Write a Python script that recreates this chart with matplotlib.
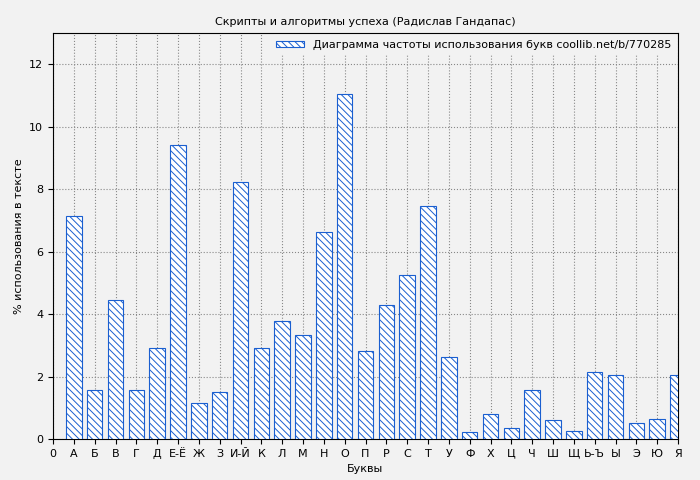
import matplotlib
matplotlib.use("Agg")
import matplotlib.pyplot as plt

letters = ["А","Б","В","Г","Д","Е-Ё","Ж","З","И-Й","К","Л","М","Н","О","П","Р","С","Т","У","Ф","Х","Ц","Ч","Ш","Щ","Ь-Ъ","Ы","Э","Ю","Я"]
values = [7.14,1.57,4.45,1.57,2.91,9.41,1.15,1.50,8.22,2.91,3.78,3.33,6.62,11.04,2.82,4.29,5.25,7.46,2.62,0.22,0.80,0.35,1.57,0.61,0.26,2.14,2.05,0.51,0.64,2.05]
tick_labels = ["0"] + letters

bg = "#f2f2f2"
fig = plt.figure(figsize=(7, 4.8), dpi=100, facecolor=bg)
ax = fig.add_axes([53/700, 41/480, 625/700, 406/480], facecolor=bg)
plt.rcParams['hatch.color'] = "#1a5fd0"
plt.rcParams['hatch.linewidth'] = 0.7
x = list(range(1, len(values) + 1))
ax.bar(x, values, width=0.75, color="white", edgecolor="#1a5fd0", hatch="\\\\\\\\\\", linewidth=0.8,
       label="Диаграмма частоты использования букв coollib.net/b/770285", zorder=3)
ax.set_xlim(0, 30)
ax.set_ylim(0, 13)
ax.set_xticks(range(0, 31))
ax.set_xticklabels(tick_labels[:31], fontsize=8)
ax.set_yticks([0, 2, 4, 6, 8, 10, 12])
ax.tick_params(labelsize=8)
ax.grid(True, linestyle=":", color="#888888", linewidth=0.8, zorder=0)
ax.set_xlabel("Буквы", fontsize=8)
ax.set_ylabel("% использования в тексте", fontsize=8)
ax.set_title("Скрипты и алгоритмы успеха (Радислав Гандапас)", fontsize=8)
leg = ax.legend(loc="upper right", fontsize=8, frameon=True, facecolor=bg, edgecolor=bg, framealpha=1,
                handlelength=2.5, handleheight=0.5, borderaxespad=0.2)
fig.savefig("out.png", dpi=100, facecolor=bg)
